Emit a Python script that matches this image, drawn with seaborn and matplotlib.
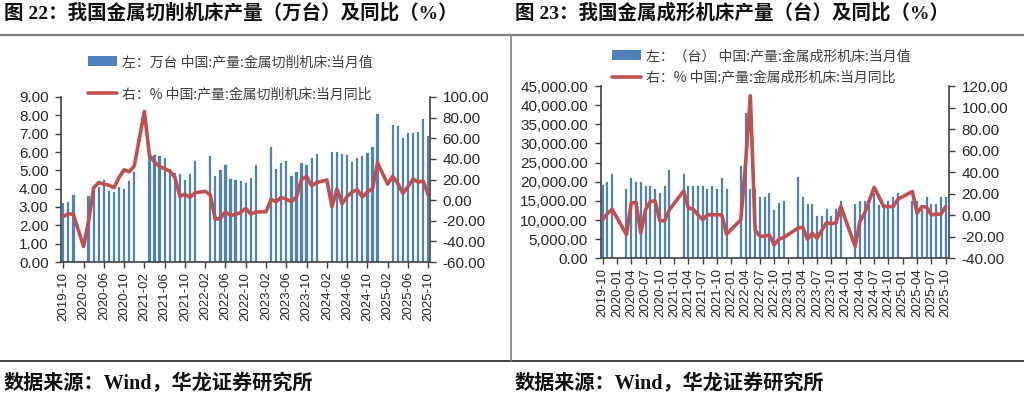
import numpy as np
import pandas as pd
import matplotlib
matplotlib.use("Agg")
import matplotlib.pyplot as plt
import seaborn as sns
from matplotlib.lines import Line2D
from matplotlib.patches import Patch

sns.set_style("white")
plt.rcParams['font.family'] = ['Liberation Sans', 'Noto Sans CJK SC', 'DejaVu Sans']
plt.rcParams['axes.unicode_minus'] = False

N = np.nan
months = pd.period_range('2019-10', '2025-10', freq='M').strftime('%Y-%m').tolist()

# 金属切削机床 当月值 (万台)
cut_units = [3.2, 3.3, 3.65, N, N, 3.6, 4.0, 4.1, 4.5, 3.9, 3.8, 4.1, 4.0, 4.4, 4.9,
             N, N, 5.9, 5.85, 5.8, 5.7, 5.1, 4.85, 4.8, 4.45, 4.8, 5.5,
             N, N, 5.8, 4.7, 5.0, 5.3, 4.55, 4.5, 4.4, 4.3, 4.6, 5.3,
             N, N, 6.3, 5.1, 5.4, 5.5, 4.7, 4.9, 5.4, 5.3, 5.65, 5.9,
             N, N, 6.0, 6.0, 5.9, 5.85, 5.45, 5.65, 5.8, 5.95, 6.3, 8.1,
             N, N, 7.5, 7.4, 6.75, 7.05, 7.05, 7.1, 7.8, 6.9]
# 金属切削机床 当月同比 (%)
cut_yoy = [-16, -13, -14, N, -45, -20, 12, 17, 15.5, 14.5, 12, 22, 29.5, 27.5, 33,
           N, 86, 43.5, 37, 32.5, 30.5, 28, 22.5, 4, 5.5, 2.7, 7.2,
           N, 8.5, 5, -18.6, -17.7, -11.2, -15, -13.8, -12, -8, -13.5, -11.5,
           N, -11.3, 0.8, -1.5, 2.7, 0.8, -1.5, 3, 20, 23, 14, 17,
           N, 19.5, -6.5, 11, -3.5, 3.5, 8, 10, 3, 8, 11, 36,
           N, 15.5, 23, 16, 6.5, 13, 20.5, 17.5, 18.5, 5]
# 金属成形机床 当月值 (台)
form_units = [19100, 20000, 22000, N, N, 18000, 21100, 20000, 20000, 19000, 19000, 18000, 17000, 19000, 23000,
              N, N, 22000, 19000, 19000, 19000, 19000, 18000, 19000, 18000, 21000, 18000,
              N, N, 24000, 38000, 18000, 18000, 16000, 16000, 17000, 12500, 14500, 15000,
              N, N, 21300, 16000, 14300, 14300, 11100, 11100, 13000, 11100, 13000, 15000,
              N, N, 14300, 15000, 15000, 15000, 17000, 14000, 14000, 15000, 16000, 17000,
              N, N, 15000, 15000, 13000, 16000, 14300, 14300, 16000, 16000]
# 金属成形机床 当月同比 (%)
form_yoy = [-4, 1.5, 5.5, N, N, -18, 11.3, 12, -16.7, 5, 12.8, 13.4, -5.2, -5.2, 5,
            N, N, 22.5, 6.6, 5.6, 0.5, -4.3, 0.4, 0.4, 0.4, 0.4, -17.6,
            N, N, -4.3, 48, 111, -13.6, -19.5, -19.5, -18.3, -27.6, -22.3, -20.7,
            N, N, -12, -11.1, -22.3, -16.7, -21.4, -14, -6.8, -8, -6.8, 8.1,
            N, N, -29, -5.8, 2, 14, 25.9, 17, 8.1, 8, 8.1, 15,
            N, N, 22, 2, 8, 7.5, 0.4, 1, 1, 8]

BLUE = '#4F81BD'
RED = '#C0504D'
SPINE = '#404040'
W, H = 1024, 395
fig = plt.figure(figsize=(W / 100, H / 100), dpi=100)
fig.patch.set_facecolor('white')


def fx(px):
    return px / W


def fy(py):
    return 1 - py / H


def make_panel(rect, units, yoy, ylim_l, yticks_l, fmt_l, ylim_r, yticks_r, xstep,
               xlim, barw, labels, leg_anchor, leg_spacing):
    ax = fig.add_axes(rect)
    idx = np.arange(len(months))
    dfb = pd.DataFrame({'idx': idx, 'val': units}).dropna()
    sns.barplot(data=dfb, x='idx', y='val', native_scale=True, width=barw,
                color=BLUE, saturation=1, errorbar=None, ax=ax,
                edgecolor=BLUE, linewidth=0.15)
    ax2 = ax.twinx()
    dfl = pd.DataFrame({'idx': idx, 'val': yoy}).dropna()
    sns.lineplot(data=dfl, x='idx', y='val', color=RED, linewidth=2.6, ax=ax2)
    for a in (ax, ax2):
        a.set_xlim(*xlim)
        a.set_xlabel('')
        a.set_ylabel('')
        a.set_facecolor('none')
        for s in a.spines.values():
            s.set_visible(False)
    ax.set_ylim(*ylim_l)
    ax.set_yticks(yticks_l)
    ax.set_yticklabels([fmt_l(v) for v in yticks_l])
    ax2.set_ylim(*ylim_r)
    ax2.set_yticks(yticks_r)
    ax2.set_yticklabels([f'{v:.2f}' for v in yticks_r])
    xt = list(range(0, len(months), xstep))
    ax.set_xticks(xt)
    ax.set_xticklabels([months[i] for i in xt], rotation=90)
    ax.spines['left'].set_visible(True)
    ax.spines['bottom'].set_visible(True)
    ax2.spines['right'].set_visible(True)
    for s in (ax.spines['left'], ax.spines['bottom'], ax2.spines['right']):
        s.set_color(SPINE)
        s.set_linewidth(1.2)
    ax.tick_params(axis='y', direction='out', length=4, width=1, color=SPINE,
                   labelsize=11, pad=5, labelcolor='#262626', left=True)
    ax.tick_params(axis='x', direction='out', length=4, width=1, color=SPINE,
                   labelsize=9.5, pad=3, labelcolor='#262626', bottom=True)
    ax2.tick_params(axis='y', direction='out', length=4, width=1, color=SPINE,
                    labelsize=11, pad=5, labelcolor='#262626', right=True)
    ax.grid(False)
    ax2.grid(False)
    handles = [Patch(facecolor=BLUE, edgecolor='none'),
               Line2D([], [], color=RED, linewidth=2.6)]
    fig.legend(handles, labels, loc='upper left', bbox_to_anchor=leg_anchor,
               frameon=False, labelcolor='#404040', borderpad=0,
               borderaxespad=0, handlelength=2.1, handletextpad=0.35,
               labelspacing=leg_spacing,
               prop={'family': ['Noto Sans CJK SC', 'DejaVu Sans'], 'size': 10})
    return ax, ax2


# left panel
make_panel([fx(61), fy(262), fx(430) - fx(61), fy(97) - fy(262)],
           cut_units, cut_yoy, (0, 9), list(range(0, 10)), lambda v: f'{v:.2f}',
           (-60, 100), list(range(-60, 101, 20)), 4, (-0.45, 72.35), 0.45,
           ['左：万台 中国:产量:金属切削机床:当月值', '右：% 中国:产量:金属切削机床:当月同比'],
           (fx(88), fy(55)), 1.3)

# right panel
make_panel([fx(600.5), fy(258.3), fx(949) - fx(600.5), fy(86) - fy(258.3)],
           form_units, form_yoy, (0, 45000), list(range(0, 45001, 5000)), lambda v: f'{v:,.2f}',
           (-40, 120), list(range(-40, 121, 20)), 3, (-0.45, 72.7), 0.42,
           ['左：（台） 中国:产量:金属成形机床:当月值', '右：% 中国:产量:金属成形机床:当月同比'],
           (fx(612), fy(49)), 0.55)

# titles and source
tfam = ['Liberation Serif', 'Noto Sans CJK SC']
fig.text(fx(4), fy(13), '图 22：我国金属切削机床产量（万台）及同比（%）', fontsize=14,
         fontweight='bold', va='center', ha='left', family=tfam, color='#111111')
fig.text(fx(515), fy(13), '图 23：我国金属成形机床产量（台）及同比（%）', fontsize=14,
         fontweight='bold', va='center', ha='left', family=tfam, color='#111111')
fig.text(fx(4), fy(383), '数据来源：Wind，华龙证券研究所', fontsize=14.5,
         fontweight='bold', va='center', ha='left', family=tfam, color='#111111')
fig.text(fx(515), fy(383), '数据来源：Wind，华龙证券研究所', fontsize=14.5,
         fontweight='bold', va='center', ha='left', family=tfam, color='#111111')

# frame lines
fig.add_artist(Line2D([0, 1], [fy(35), fy(35)], transform=fig.transFigure, color='#7f7f7f', lw=1.6))
fig.add_artist(Line2D([0, 1], [fy(361), fy(361)], transform=fig.transFigure, color='#222222', lw=1.2))
fig.add_artist(Line2D([fx(511), fx(511)], [fy(35), fy(361)], transform=fig.transFigure, color='#7f7f7f', lw=1.2))

fig.savefig('out.png', dpi=100, facecolor='white')
